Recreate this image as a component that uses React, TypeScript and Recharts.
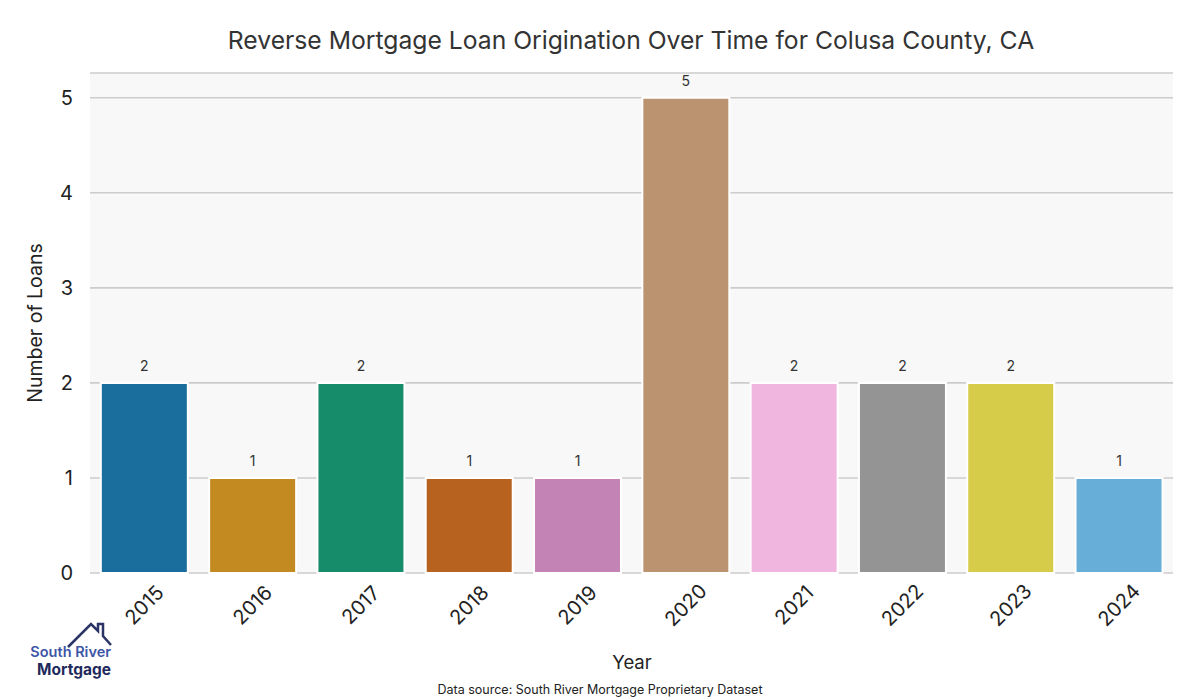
import React from "react";
import { BarChart, Bar, XAxis, YAxis, CartesianGrid, LabelList, Cell } from "recharts";

const years = ["2015", "2016", "2017", "2018", "2019", "2020", "2021", "2022", "2023", "2024"];
const loans = [2, 1, 2, 1, 1, 5, 2, 2, 2, 1];
const colors = ["#1a6e9e", "#c38a22", "#178c6a", "#b8621f", "#c383b5", "#bc9370", "#f0b6e0", "#949494", "#d6cc4a", "#67afd8"];
const yTicks = [0, 1, 2, 3, 4, 5];

const data = years.map((y, i) => ({ year: y, loans: loans[i] }));

const FONT = "Inter, 'DejaVu Sans', sans-serif";

const XTick = (props: any) => {
  const { x, payload } = props;
  const cy = 605;
  return (
    <text
      x={x}
      y={cy}
      textAnchor="middle"
      dominantBaseline="central"
      transform={`rotate(-45, ${x}, ${cy})`}
      fontSize={20}
      fill="#222"
      fontFamily={FONT}
    >
      {payload.value}
    </text>
  );
};

export default function App() {
  return (
    <div style={{ position: "absolute", left: 0, top: 0, width: 1200, height: 700, background: "#fff", fontFamily: FONT }}>
      <BarChart
        width={1200}
        height={700}
        data={data}
        margin={{ top: 73, right: 27, bottom: 0, left: 0 }}
        barCategoryGap="10%"
      >
        <CartesianGrid horizontal={true} vertical={false} stroke="#cccccc" strokeWidth={1.6} fill="#f8f8f8" />
        <XAxis
          dataKey="year"
          height={127}
          axisLine={false}
          tickLine={false}
          interval={0}
          tick={<XTick />}
        />
        <YAxis
          width={90}
          domain={[0, 5.26]}
          ticks={yTicks}
          axisLine={false}
          tickLine={false}
          tickSize={0}
          tickMargin={17}
          tick={{ fontSize: 20, fill: "#222", fontFamily: FONT }}
        />
        <Bar dataKey="loans" isAnimationActive={false} stroke="#ffffff" strokeWidth={2}>
          {data.map((d, i) => (
            <Cell key={d.year} fill={colors[i]} />
          ))}
          <LabelList dataKey="loans" position="top" offset={12} fontSize={14} fill="#333" fontFamily={FONT} />
        </Bar>
        <text x={631} y={40} textAnchor="middle" dominantBaseline="central" fontSize={24.7} fill="#333" fontFamily={FONT}>
          Reverse Mortgage Loan Origination Over Time for Colusa County, CA
        </text>
        <text x={632} y={662} textAnchor="middle" dominantBaseline="central" fontSize={18.5} fill="#222" fontFamily={FONT}>
          Year
        </text>
        <text
          x={35}
          y={323}
          textAnchor="middle"
          dominantBaseline="central"
          fontSize={19.5}
          fill="#222"
          fontFamily={FONT}
          transform="rotate(-90, 35, 323)"
        >
          Number of Loans
        </text>
        <text x={600} y={689} textAnchor="middle" dominantBaseline="central" fontSize={12.5} fill="#222" fontFamily={FONT}>
          Data source: South River Mortgage Proprietary Dataset
        </text>
        <g>
          <path
            d="M68,647 L91,624 L98,631 L98,624 L103,624 L103,636 L111,645"
            fill="none"
            stroke="#2b3466"
            strokeWidth={2.5}
            strokeLinejoin="miter"
          />
          <text x={111} y={657} textAnchor="end" fontSize={14.5} fontWeight={600} fill="#3d56a6" fontFamily={FONT}>
            South River
          </text>
          <text x={111} y={675} textAnchor="end" fontSize={15.5} fontWeight={700} fill="#1f2a5c" fontFamily={FONT}>
            Mortgage
          </text>
        </g>
      </BarChart>
    </div>
  );
}
